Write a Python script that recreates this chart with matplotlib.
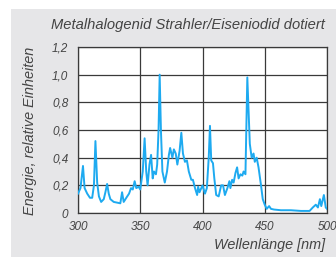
import matplotlib
matplotlib.use("Agg")
import matplotlib.pyplot as plt
from matplotlib.patches import Rectangle

# spectrum (wavelength in nm, relative energy)
wavelength = [
    300, 302, 304, 305.3, 307.4, 309.6, 311.4, 312.8, 314, 315.4, 316.8,
    318.6, 320.7, 322, 323.4, 324.7, 326, 328.7, 331.4, 334, 335.4, 336.7,
    338.8, 341, 342.6, 344, 345.5, 346.8, 348.7,
    350, 352, 353.5, 354.8, 355.9, 357.4, 358.7, 360, 361, 362.6, 363.6,
    364.7, 365.6, 366.6, 367.8, 369.7, 371.5, 373, 374, 375.8, 377, 378.5,
    379.8, 381.6, 383, 384.3, 385.9, 387.5, 389, 391, 392.3, 394, 395.7,
    396.5, 397.6,
    400, 402, 403.5, 405, 406, 407, 408.4, 409.5, 411, 413, 415, 416.5,
    418, 420, 421.6, 422.4, 423.8, 425, 426.5, 427.8, 429, 430.5, 432,
    433, 434.5, 436, 438, 439.5, 441, 442, 443.5, 445, 447, 448.4,
    450, 451.6, 453.5, 455, 457.5, 463, 471, 479, 486, 488.6, 491, 492.7,
    494.3, 495.4, 497.5, 499, 500,
]
energy = [
    0.14, 0.18, 0.34, 0.18, 0.14, 0.11, 0.11, 0.20, 0.52, 0.22, 0.12,
    0.08, 0.10, 0.15, 0.21, 0.14, 0.10, 0.08, 0.075, 0.07, 0.15, 0.08,
    0.11, 0.14, 0.18, 0.17, 0.23, 0.18, 0.19,
    0.17, 0.30, 0.54, 0.30, 0.20, 0.35, 0.42, 0.25, 0.30, 0.28, 0.35,
    0.60, 1.00, 0.60, 0.30, 0.22, 0.30, 0.42, 0.47, 0.40, 0.46, 0.43,
    0.35, 0.45, 0.58, 0.43, 0.37, 0.38, 0.30, 0.24, 0.24, 0.18, 0.13,
    0.19, 0.15,
    0.20, 0.14, 0.18, 0.40, 0.63, 0.38, 0.36, 0.25, 0.13, 0.12, 0.20, 0.20,
    0.13, 0.18, 0.23, 0.18, 0.24, 0.22, 0.29, 0.33, 0.25, 0.28, 0.27,
    0.30, 0.28, 0.98, 0.50, 0.40, 0.43, 0.37, 0.40, 0.33, 0.20, 0.10,
    0.06, 0.03, 0.05, 0.03, 0.025, 0.02, 0.02, 0.015, 0.015, 0.04, 0.06, 0.04,
    0.10, 0.05, 0.13, 0.04, 0.03,
]

x_ticks = [300, 350, 400, 450, 500]
y_ticks = [0, 0.2, 0.4, 0.6, 0.8, 1.0, 1.2]
y_tick_labels = ["0", "0,2", "0,4", "0,6", "0,8", "1,0", "1,2"]

W, H = 336, 257
fig = plt.figure(figsize=(W / 100, H / 100), dpi=100, facecolor="white")
fig.patches.append(Rectangle((11 / W, 0), 1, 1 - 9 / H, transform=fig.transFigure,
                             facecolor="#e6e6e8", edgecolor="none", zorder=-10))

ax = fig.add_axes([78 / W, 1 - 213 / H, (327 - 78) / W, (213 - 47) / H])
ax.set_zorder(1)
ax.set_facecolor("white")
ax.plot(wavelength, energy, color="#1eaaf0", linewidth=1.4, zorder=3)
ax.set_xlim(300, 500)
ax.set_ylim(0, 1.2)
ax.set_xticks(x_ticks)
ax.set_yticks(y_ticks)
ax.set_yticklabels(y_tick_labels)
ax.grid(True, color="#3a3a3a", linewidth=0.9)
for sp in ax.spines.values():
    sp.set_color("#3a3a3a")
    sp.set_linewidth(0.9)
ax.tick_params(length=0, labelsize=8.5, labelcolor="#444444")
ax.tick_params(axis="x", pad=6)
ax.tick_params(axis="y", pad=7)
for lab in ax.get_xticklabels() + ax.get_yticklabels():
    lab.set_fontstyle("italic")
    lab.set_family("Liberation Sans")

txt = dict(family="Liberation Sans", style="italic", color="#444444")
fig.text(325 / W, 1 - 25 / H, "Metalhalogenid Strahler/Eiseniodid dotiert",
         ha="right", va="center", fontsize=10.6, **txt)
fig.text(30 / W, 1 - 131 / H, "Energie, relative Einheiten", rotation=90,
         ha="center", va="center", fontsize=10.4, **txt)
fig.text(325 / W, 1 - 245 / H, "Wellenlänge [nm]", ha="right", va="center",
         fontsize=10.4, **txt)

fig.savefig("out.png", dpi=100, facecolor=fig.get_facecolor())
